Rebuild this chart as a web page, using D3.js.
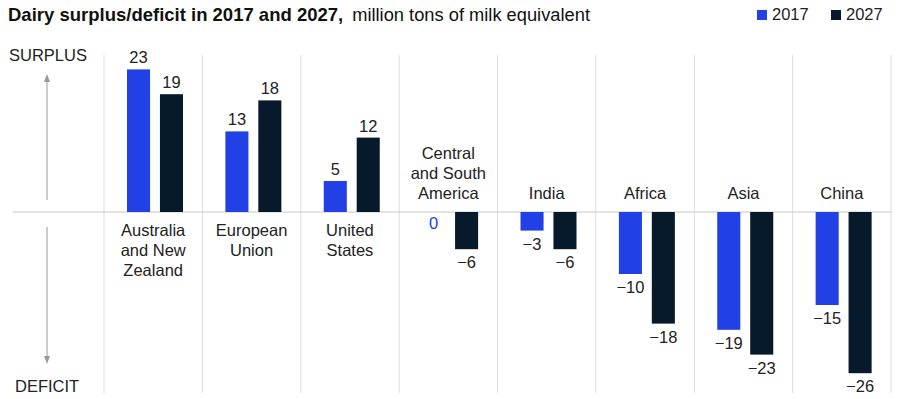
<!DOCTYPE html>
<html>
<head>
<meta charset="utf-8">
<script src="https://cdn.jsdelivr.net/npm/d3@7"></script>
<style>
  body { margin: 0; background: #fff; }
  svg { display: block; font-family: "Liberation Sans", Arial, sans-serif; }
</style>
</head>
<body>
<svg id="chart" width="900" height="399"></svg>
<script>
// data
const categories = ["Australia and New Zealand", "European Union", "United States",
  "Central and South America", "India", "Africa", "Asia", "China"];
const categoryLines = [["Australia", "and New", "Zealand"], ["European", "Union"], ["United", "States"],
  ["Central", "and South", "America"], ["India"], ["Africa"], ["Asia"], ["China"]];
const years = ["2017", "2027"];
const values2017 = [23, 13, 5, 0, -3, -10, -19, -15];
const values2027 = [19, 18, 12, -6, -6, -18, -23, -26];

const colors = { "2017": "#2140e6", "2027": "#061a2c" };
const textColor = "#222";

const svg = d3.select("#chart");

// scales
const x0 = d3.scaleBand().domain(categories).range([104, 891]).padding(0);
const x1 = d3.scaleBand().domain(years).range([23, 79]).paddingInner(0.3);
const y = d3.scaleLinear().domain([-30, 30]).range([398, 26]);

const rows = categories.map((c, i) => ({
  cat: c,
  lines: categoryLines[i],
  vals: [{ year: "2017", v: values2017[i] }, { year: "2027", v: values2027[i] }]
}));

// separators
svg.append("g").selectAll("line")
  .data(categories.map(c => x0(c)).concat([x0.range()[1]]))
  .join("line")
  .attr("x1", d => d).attr("x2", d => d)
  .attr("y1", 55).attr("y2", 393)
  .attr("stroke", "#dcdcdc").attr("stroke-width", 1);

// baseline
svg.append("line")
  .attr("x1", 13).attr("x2", 891)
  .attr("y1", y(0)).attr("y2", y(0))
  .attr("stroke", "#c8c8c8").attr("stroke-width", 1);

// bars
const groups = svg.append("g").selectAll("g")
  .data(rows)
  .join("g")
  .attr("transform", d => `translate(${x0(d.cat)},0)`);

groups.selectAll("rect")
  .data(d => d.vals)
  .join("rect")
  .attr("x", d => x1(d.year))
  .attr("width", x1.bandwidth())
  .attr("y", d => y(Math.max(0, d.v)))
  .attr("height", d => Math.abs(y(d.v) - y(0)))
  .attr("fill", d => colors[d.year]);

// value labels
const fmt = v => v < 0 ? "\u2212" + Math.abs(v) : String(v);
groups.selectAll("text.val")
  .data(d => d.vals)
  .join("text")
  .attr("class", "val")
  .attr("x", d => x1(d.year) + x1.bandwidth() / 2)
  .attr("y", d => d.v > 0 ? y(d.v) - 6 : (d.v < 0 ? y(d.v) + 19 : y(0) + 17))
  .attr("text-anchor", "middle")
  .attr("font-size", 16.5)
  .attr("fill", d => d.v === 0 ? colors["2017"] : textColor)
  .text(d => fmt(d.v));

// category labels
groups.each(function(d) {
  const g = d3.select(this);
  const positive = d3.max(d.vals, v => v.v) > 0;
  const n = d.lines.length;
  const cx = x0.bandwidth() / 2;
  g.append("text")
    .attr("text-anchor", "middle")
    .attr("font-size", 16.5)
    .attr("fill", textColor)
    .selectAll("tspan")
    .data(d.lines)
    .join("tspan")
    .attr("x", cx)
    .attr("y", (l, i) => positive ? y(0) + 24 + i * 20 : y(0) - 13 - (n - 1 - i) * 20)
    .text(l => l);
});

// surplus / deficit axis
svg.append("text").attr("x", 9).attr("y", 61)
  .attr("font-size", 16.5).attr("fill", textColor).text("SURPLUS");
svg.append("text").attr("x", 15).attr("y", 392)
  .attr("font-size", 16.5).attr("fill", textColor).text("DEFICIT");

svg.append("line").attr("x1", 47).attr("x2", 47).attr("y1", 200).attr("y2", 80)
  .attr("stroke", "#999").attr("stroke-width", 1);
svg.append("path").attr("d", "M47,74 L44,82 L50,82 Z").attr("fill", "#999");
svg.append("line").attr("x1", 47).attr("x2", 47).attr("y1", 227).attr("y2", 357)
  .attr("stroke", "#999").attr("stroke-width", 1);
svg.append("path").attr("d", "M47,364 L44,356 L50,356 Z").attr("fill", "#999");

// title
const title = svg.append("text").attr("x", 8).attr("y", 21).attr("fill", "#111");
title.append("tspan").attr("font-weight", "bold").attr("font-size", 18.5)
  .text("Dairy surplus/deficit in 2017 and 2027,");
title.append("tspan").attr("font-size", 18.3).attr("dx", 9)
  .text("million tons of milk equivalent");

// legend
const legend = svg.append("g").selectAll("g")
  .data(years)
  .join("g")
  .attr("transform", (d, i) => `translate(${757 + i * 74},0)`);
legend.append("rect").attr("x", 0).attr("y", 10).attr("width", 10).attr("height", 10)
  .attr("fill", d => colors[d]);
legend.append("text").attr("x", 15).attr("y", 20)
  .attr("font-size", 16.5).attr("fill", textColor).text(d => d);
</script>
</body>
</html>
